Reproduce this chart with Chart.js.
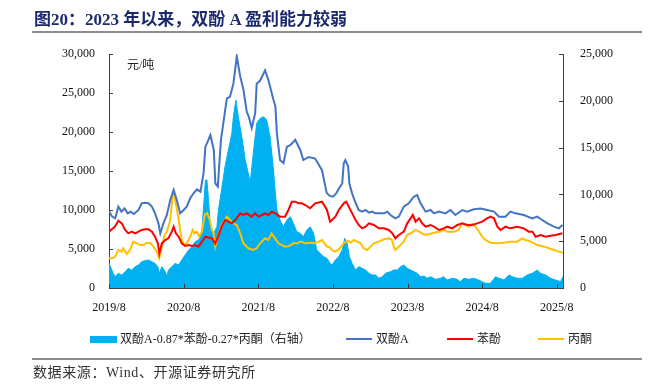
<!DOCTYPE html>
<html><head><meta charset="utf-8">
<script src="https://cdn.jsdelivr.net/npm/chart.js@4/dist/chart.umd.min.js"></script>
<style>
html,body{margin:0;padding:0;background:#fff;width:657px;height:390px;overflow:hidden;}
#wrap{position:relative;width:657px;height:390px;}
canvas{position:absolute;left:0;top:0;}
.title{position:absolute;left:34px;top:5px;font-weight:bold;font-size:17px;font-family:"Liberation Serif","Noto Sans CJK SC";color:#1b2a6e;white-space:nowrap;}
.rule{position:absolute;left:32px;width:610px;height:2px;background:#8c8c8c;}
.src{position:absolute;left:33px;top:361px;font-size:14px;letter-spacing:0.6px;font-family:"Liberation Serif","Noto Sans CJK SC";color:#333;white-space:nowrap;}
.unit{position:absolute;left:127px;top:55px;font-size:12px;font-family:"Liberation Serif","Noto Sans CJK SC";color:#222;}
.lg{position:absolute;font-size:12px;font-family:"Liberation Serif","Noto Sans CJK SC";color:#222;white-space:nowrap;top:331px;line-height:16px;}
.sw{position:absolute;}
</style></head>
<body><div id="wrap">
<canvas id="c" width="657" height="390"></canvas>
<div class="title">图20：2023 年以来，双酚 A 盈利能力较弱</div>
<div class="rule" style="top:31px"></div>
<div class="unit">元/吨</div>
<div class="sw" style="left:90px;top:336px;width:27px;height:7px;background:#00b0f0"></div>
<div class="lg" style="left:120px">双酚A-0.87*苯酚-0.27*丙酮（右轴）</div>
<div class="sw" style="left:346px;top:338px;width:26px;height:2px;background:#4472c4"></div>
<div class="lg" style="left:376px">双酚A</div>
<div class="sw" style="left:447px;top:338px;width:26px;height:2px;background:#ff0000"></div>
<div class="lg" style="left:477px">苯酚</div>
<div class="sw" style="left:538px;top:338px;width:26px;height:2px;background:#ffc000"></div>
<div class="lg" style="left:568px">丙酮</div>
<div class="rule" style="top:358px"></div>
<div class="src">数据来源：Wind、开源证券研究所</div>
</div>
<script>
const xTickLabels = ['2019/8','2020/8','2021/8','2022/8','2023/8','2024/8','2025/8'];

// months since 2019/8
const bpaMonths = [0,0.5,1,1.5,2,2.5,3,3.5,4,4.75,5.25,5.8,6.35,6.9,7.4,7.95,8.25,8.75,9.3,9.85,10.4,10.9,11.45,12,12.5,13.05,13.6,14.15,14.7,15.2,15.5,15.75,16.3,16.85,17.1,17.5,18,18.95,19.45,20,20.55,21.1,21.6,22.15,22.5,22.95,23.5,23.75,24.3,25.1,25.65,26.45,26.75,27,27.5,28.05,28.6,29.15,29.95,30.75,31.25,32.1,33.15,34.25,35,35.5,36,36.5,37,37.5,37.75,38,38.45,38.65,39.1,39.65,40.15,40.7,41.25,41.8,42.3,42.85,43.4,44.2,44.75,45.25,46.05,46.6,47.4,48.2,49,49.55,50.1,50.9,51.7,52.25,53.05,54.1,54.9,55.7,56.8,57.6,58.65,59.75,60.8,61.9,62.7,63.75,64.55,65.35,66.7,68.05,68.85,69.65,70.5,71.55,72.35,72.9];
const bpaValues = [9870,9150,8930,10430,9790,10200,9570,9790,9490,10000,10860,10940,10860,10430,9570,8290,7000,8290,9360,11280,12560,11280,9570,10000,10430,11500,12140,12650,12350,14700,18120,18550,19620,17700,13420,13000,19000,24300,24500,26200,29700,27100,25500,22600,21900,20500,22400,26200,26600,27900,26600,24100,23300,19800,16400,16000,18100,18300,19000,17700,16400,16800,16600,15100,12200,11800,11700,12100,12800,13400,16000,16400,15600,13400,12100,10900,10000,9800,10000,9660,9790,9570,9570,9570,9790,9360,8930,9150,10430,10860,11700,11900,10860,9790,10000,9570,9790,9570,10000,9360,10000,9790,10090,10200,10000,9790,9150,9150,9790,9570,9360,8930,9150,8720,8290,7860,7650,8080];

const phenolMonths = [0,0.95,1.5,2.05,2.6,3.1,3.65,4.2,4.75,5.25,5.8,6.35,6.9,7.4,7.85,8.1,8.5,9.05,9.55,10.1,10.4,10.75,11.2,11.7,12.25,12.8,13.35,13.85,14.4,14.95,15.5,16.55,17.1,17.65,18.1,18.65,19.2,19.75,20.3,21.1,21.6,22.15,22.95,23.5,24.05,24.6,25.1,25.65,26.15,26.75,27.5,28.3,28.85,29.4,29.95,30.5,31,31.55,32.35,33.15,34.25,35.05,35.55,35.85,36.4,36.95,37.75,38.15,38.55,39.1,39.65,40.15,40.7,41.25,41.8,42.6,43.4,44.2,45,45.55,46.05,46.6,47.4,47.95,48.5,48.85,49.3,49.85,50.35,50.9,51.7,52.25,53.05,53.85,54.35,55.2,56,56.8,57.6,58.4,59.2,60,60.8,61.35,61.9,62.45,62.95,63.75,64.55,65.65,66.7,67.5,68.1,68.6,69.4,70.2,71,71.8,72.9];
const phenolValues = [7220,7860,8630,8290,7440,7010,7220,7010,7220,7440,7520,7520,7220,6580,5730,4440,5730,6150,6370,7220,7860,7010,6580,5730,5390,5510,5390,5510,5300,5940,6580,6370,5700,6800,7860,8720,8500,8290,8720,9570,9360,9570,9150,9570,9150,9360,9570,9360,9790,9570,9150,9150,10000,11070,11070,10860,10860,10640,10220,10860,11070,10000,8500,8720,9150,10000,10860,11070,10430,9570,8720,8080,7650,7860,8290,8080,7650,7650,7440,7010,6370,6800,7220,8290,8930,9360,8500,8930,8290,7860,8080,7860,7440,7650,7860,7650,8080,8290,8080,8080,8290,8500,8930,9150,8930,7860,7440,7860,7650,7860,7650,7220,7220,6580,6800,6580,6700,6800,7010];

const acetoneMonths = [0,0.5,0.95,1.5,2.05,2.3,2.85,3.4,3.9,4.45,5,5.5,6.1,6.7,7.15,7.7,8.05,8.5,8.95,9.3,9.85,10.2,10.4,10.75,11.2,11.7,12.1,12.5,13.05,13.45,13.75,14.1,14.5,14.95,15.4,15.75,16.15,16.55,16.85,17.1,17.6,18.1,18.95,19.45,20,20.55,21.1,21.6,22.4,23.2,23.75,24.3,25.1,25.6,26.15,26.7,27.25,27.8,28.3,29,29.65,30.25,30.85,31.5,32.6,33.15,34.25,35.05,35.35,35.85,36.4,36.95,37.75,38.3,38.85,39.35,39.9,40.45,40.95,41.5,42.05,42.6,43.4,44.2,45,45.5,45.8,46.05,46.6,47.4,47.95,48.5,49.3,49.85,50.35,50.9,51.95,53.05,53.85,54.35,55.45,56.25,56.8,57.35,57.9,58.4,58.95,59.5,60,60.55,61.35,62.45,63.5,64.55,65.65,66.45,67,67.8,68.85,69.95,70.75,71.55,72.35,73];
const acetoneValues = [3800,3800,4000,4870,4660,5090,4360,4870,5940,5730,5510,5510,5810,5730,5300,4660,3800,5300,6800,7220,8720,11710,12350,10860,8720,6110,5510,5730,6580,7440,7010,7220,6580,7220,9360,9590,8930,7440,7000,5300,6800,8080,9150,8720,8290,8080,7010,5730,5090,4870,5090,5730,6370,6160,7010,6370,5730,5510,5300,5400,5730,5730,5940,5730,5810,5730,6150,5300,5300,4870,4660,4950,5730,6070,5810,6150,5940,5730,5090,4870,5300,5730,5940,6240,6370,6150,5300,4870,5300,5940,6800,7010,7440,7220,7010,6800,7010,7220,7440,7220,7220,7440,8290,8080,7860,8210,7860,7220,6580,6150,5810,5730,5810,5940,5940,6370,6160,5940,5510,5300,5090,4870,4660,4530];

const spreadMonths = [0,0.45,0.95,1.5,2.05,2.6,3.1,3.65,4.2,4.75,5.25,5.8,6.35,6.9,7.4,7.85,8.1,8.5,9.05,9.3,9.55,10.1,10.65,11.2,11.7,12.25,12.8,13.35,13.85,14.4,14.7,14.95,15.5,15.75,16,16.3,16.85,17.35,17.6,18.1,18.65,19.2,19.75,20,20.4,20.8,21.35,21.9,22.4,22.7,23.25,23.75,24.3,24.85,25.35,25.9,26.45,26.7,27,27.5,28.05,28.6,29.15,29.65,30.2,30.75,31.25,31.8,32.35,32.9,33.4,33.95,34.5,35.05,35.55,35.85,36.4,36.95,37.5,37.9,38.3,38.65,39.1,39.65,40.15,40.7,41.25,41.8,42.3,42.85,43.4,43.95,44.45,45.25,45.8,46.35,46.9,47.4,47.95,48.5,49.05,49.55,50.1,50.65,51.15,51.7,52.5,53.3,53.85,54.35,55.2,56,56.5,57.05,57.85,58.65,59.45,60,60.55,61.35,62.15,62.7,63.5,64.3,64.85,65.65,66.45,67.25,68.05,68.85,69.4,70.2,71,71.8,72.6,73];
const spreadValues = [2630,1920,1210,1570,1390,1740,2100,1920,2280,2460,2810,2920,2990,2810,2630,2280,1570,2280,1740,1210,1920,2280,2630,2460,2990,3520,4060,4410,4950,5130,5480,6190,11530,11530,9400,6550,5840,6550,8330,10470,12960,14740,16520,18300,20080,18300,16160,13670,12250,11180,14740,17590,18120,18300,17950,16160,12600,10470,8330,7260,6550,7260,7620,6900,6020,5840,5480,6190,6550,5840,4060,3700,3350,3170,2630,2460,2990,3350,4060,5300,4770,3350,2630,1920,2280,2100,1920,1570,1390,1390,1030,1210,1570,1740,1920,1920,2280,2460,2100,1920,1740,1570,1210,1280,1030,1210,930,1030,1210,850,1030,930,680,1030,930,1030,850,680,500,500,1210,1030,850,1390,1210,1030,1030,1390,1570,1920,1570,1390,1030,850,680,1210];

const pts = (xs, ys) => xs.map((m, i) => ({x: m, y: ys[i]}));

const FONT = {family: '"Liberation Serif","Noto Sans CJK SC"', size: 12};

const innerTicks = {
  id: 'innerTicks',
  afterDatasetsDraw(chart) {
    const ctx = chart.ctx, a = chart.chartArea;
    ctx.save();
    ctx.strokeStyle = '#404040';
    ctx.lineWidth = 1;
    const sy = chart.scales.y, sy1 = chart.scales.y1, sx = chart.scales.x;
    sy.ticks.forEach(t => { const y = Math.round(sy.getPixelForValue(t.value)) + 0.5; ctx.beginPath(); ctx.moveTo(a.left, y); ctx.lineTo(a.left + 4, y); ctx.stroke(); });
    sy1.ticks.forEach(t => { const y = Math.round(sy1.getPixelForValue(t.value)) + 0.5; ctx.beginPath(); ctx.moveTo(a.right, y); ctx.lineTo(a.right - 4, y); ctx.stroke(); });
    sx.ticks.forEach(t => { const x = Math.round(sx.getPixelForValue(t.value)) + 0.5; ctx.beginPath(); ctx.moveTo(x, a.bottom); ctx.lineTo(x, a.bottom - 4); ctx.stroke(); });
    ctx.restore();
  }
};

new Chart(document.getElementById('c'), {
  type: 'line',
  data: {
    datasets: [
      {label: '双酚A', data: pts(bpaMonths, bpaValues), yAxisID: 'y', borderColor: '#4472c4', borderWidth: 2, pointRadius: 0, fill: false, order: 1},
      {label: '苯酚', data: pts(phenolMonths, phenolValues), yAxisID: 'y', borderColor: '#ff0000', borderWidth: 2, pointRadius: 0, fill: false, order: 2},
      {label: '丙酮', data: pts(acetoneMonths, acetoneValues), yAxisID: 'y', borderColor: '#ffc000', borderWidth: 2, pointRadius: 0, fill: false, order: 3},
      {label: '双酚A-0.87*苯酚-0.27*丙酮（右轴）', data: pts(spreadMonths, spreadValues), yAxisID: 'y1', borderColor: '#00b0f0', backgroundColor: '#00b0f0', borderWidth: 1, pointRadius: 0, fill: 'origin', order: 4}
    ]
  },
  options: {
    responsive: false,
    animation: false,
    devicePixelRatio: 1,
    layout: {padding: {top: 54, right: 34, bottom: 72, left: 0}},
    plugins: {legend: {display: false}, tooltip: {enabled: false}},
    scales: {
      x: {
        type: 'linear', position: 'bottom', min: 0, max: 73,
        grid: {display: false},
        border: {display: true, color: '#404040', width: 1},
        ticks: {stepSize: 12, includeBounds: false, autoSkip: false, maxRotation: 0, padding: 5, color: '#111', font: FONT,
          callback: v => (v % 12 === 0 ? xTickLabels[v / 12] : '')},
        afterBuildTicks: s => { s.ticks = s.ticks.filter(t => t.value % 12 === 0); },
        afterFit: s => { s.height = 30; }
      },
      y: {
        position: 'left', min: 0, max: 30000,
        grid: {display: false},
        border: {display: true, color: '#404040', width: 1},
        ticks: {stepSize: 5000, padding: 6, color: '#111', font: FONT, callback: v => v.toLocaleString('en-US')},
        afterFit: s => { s.width = 109; }
      },
      y1: {
        position: 'right', min: 0, max: 25000,
        grid: {display: false},
        border: {display: true, color: '#404040', width: 1},
        ticks: {stepSize: 5000, padding: 9, color: '#111', font: FONT, callback: v => v.toLocaleString('en-US')},
        afterFit: s => { s.width = 60; }
      }
    }
  },
  plugins: [innerTicks]
});
</script>
</body></html>
